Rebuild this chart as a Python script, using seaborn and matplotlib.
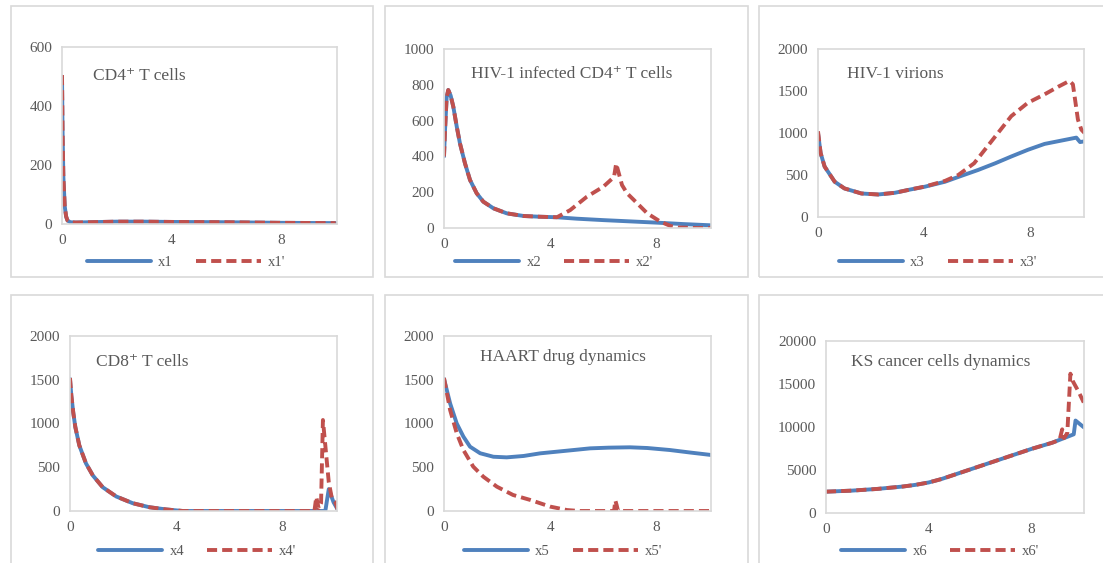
import numpy as np
import pandas as pd
import matplotlib
matplotlib.use("Agg")
import matplotlib.pyplot as plt
from matplotlib.patches import Rectangle
import seaborn as sns

# values
t1 = [0, 0.02, 0.05, 0.1, 0.15, 0.2, 0.3, 0.5, 1, 2, 3, 4, 6, 8, 10]
x1 = [500, 320, 160, 60, 25, 12, 6, 5, 6, 8, 8, 7, 6, 4, 3]
x1p = [505, 320, 160, 62, 26, 12, 6, 5, 6, 8, 8, 7, 6, 4, 3]

t2 = [0, 0.04, 0.1, 0.16, 0.25, 0.35, 0.48, 0.6, 0.79, 0.98, 1.23, 1.48, 1.86, 2.36, 3.0, 3.6,
      4.25, 5, 6, 7, 8, 9, 10.05]
x2 = [400, 550, 730, 771, 740, 678, 566, 473, 361, 268, 194, 147, 110, 82, 67, 63,
      60, 52, 44, 37, 30, 22, 15]
t2p = [0, 0.04, 0.1, 0.16, 0.25, 0.35, 0.48, 0.6, 0.79, 0.98, 1.23, 1.48, 1.86, 2.36, 3.0, 3.6,
       4.25, 4.75, 5.38, 6.0, 6.4, 6.48, 6.7, 6.89, 7.15, 7.65, 8.15, 8.53, 8.8, 9.5, 10.05]
x2p = [400, 550, 730, 771, 740, 678, 566, 473, 361, 268, 194, 147, 110, 82, 67, 63,
       60, 100, 175, 231, 285, 360, 240, 194, 156, 82, 35, 11, 3, 0, 0]

t3 = [0, 0.1, 0.25, 0.63, 1.0, 1.64, 2.27, 2.9, 3.5, 4.03, 4.8, 5.4, 6.05, 6.7, 7.3, 7.93, 8.56, 9.2, 9.76, 9.9, 10.05]
x3 = [1000, 760, 600, 420, 340, 280, 268, 288, 328, 360, 420, 488, 560, 640, 720, 800, 870, 910, 945, 892, 900]
t3p = [0, 0.1, 0.25, 0.63, 1.0, 1.64, 2.27, 2.9, 3.5, 4.03, 4.8, 5.3, 5.9, 6.3, 6.8, 7.3, 7.93, 8.56, 9.07, 9.5, 9.63, 9.82, 9.95, 10.07]
x3p = [1020, 760, 600, 420, 340, 280, 268, 288, 328, 362, 430, 500, 640, 800, 1000, 1200, 1360, 1460, 1550, 1620, 1580, 1160, 1040, 1000]

t4 = [0, 0.05, 0.125, 0.2, 0.35, 0.6, 0.86, 1.23, 1.74, 2.36, 2.99, 3.62, 4.25, 6, 8, 9.61, 9.74, 9.92, 10.07]
x4 = [1510, 1320, 1120, 960, 750, 545, 406, 272, 166, 89, 43, 18, 0, 0, 0, 0, 250, 100, 20]
t4p = [0, 0.05, 0.125, 0.2, 0.35, 0.6, 0.86, 1.23, 1.74, 2.36, 2.99, 3.62, 4.25, 6, 8,
       9.2, 9.27, 9.36, 9.45, 9.52, 9.61, 9.74, 9.86, 9.99, 10.07]
x4p = [1520, 1320, 1120, 960, 750, 545, 406, 272, 166, 89, 43, 18, 0, 0, 0,
       0, 160, 30, 90, 1040, 750, 330, 140, 100, 20]

t5 = [0, 0.23, 0.48, 0.73, 0.98, 1.36, 1.86, 2.36, 3.0, 3.62, 4.88, 5.5, 6.2, 7.0, 7.65, 8.5, 9.3, 10.06]
x5 = [1510, 1230, 1000, 850, 735, 660, 620, 613, 629, 659, 697, 716, 724, 728, 720, 697, 667, 640]
t5p = [0, 0.23, 0.48, 0.73, 1.1, 1.48, 1.99, 2.6, 3.25, 4.0, 4.63, 5.1, 6.4, 6.45, 6.5, 6.55, 8, 10.06]
x5p = [1520, 1154, 888, 697, 507, 392, 278, 183, 126, 50, 11, 0, 0, 120, 65, 0, 0, 0]

t6 = [0, 1, 2, 3, 3.5, 4, 4.5, 5, 6, 7, 8, 8.81, 9.65, 9.72, 10.05]
x6 = [2480, 2600, 2800, 3080, 3280, 3550, 3950, 4450, 5450, 6450, 7450, 8170, 9150, 10750, 9950]
t6p = [0, 1, 2, 3, 3.5, 4, 4.5, 5, 6, 7, 8, 8.81, 9.1, 9.2, 9.27, 9.4, 9.52, 9.62, 9.84, 10.04]
x6p = [2480, 2600, 2800, 3080, 3280, 3550, 3950, 4450, 5450, 6450, 7450, 8170, 8500, 9730, 8700, 9300, 16200, 15300, 14100, 12850]

titles = ["CD4\u207a T cells", "HIV-1 infected CD4\u207a T cells", "HIV-1 virions",
          "CD8\u207a T cells", "HAART drug dynamics", "KS cancer cells dynamics"]
names = ["x1", "x2", "x3", "x4", "x5", "x6"]
y_max = [600, 1000, 2000, 2000, 2000, 20000]
y_step = [200, 200, 500, 500, 500, 5000]
x_ticks = [0, 4, 8]

series = [(t1, x1, t1, x1p), (t2, x2, t2p, x2p), (t3, x3, t3p, x3p),
          (t4, x4, t4p, x4p), (t5, x5, t5p, x5p), (t6, x6, t6p, x6p)]

sns.set_style("white")
plt.rcParams["font.family"] = ["Liberation Serif", "DejaVu Serif"]

W, H = 1103, 563
fig = plt.figure(figsize=(W / 100, H / 100), dpi=100)

# pixel boxes: (left, right, top, bottom)
ax_px = [(62, 337, 47, 224), (444, 711, 49, 228), (818, 1084, 49, 217),
         (70, 337, 336, 511), (444, 711, 336, 511), (826, 1084, 341, 513)]
panel_px = [(11, 373, 6, 277), (385, 748, 6, 277), (759, 1110, 6, 277),
            (11, 373, 295, 570), (385, 748, 295, 570), (759, 1110, 295, 570)]
title_px = [(93, 76), (471, 74), (847, 74), (96, 362), (480, 357), (851, 362)]
legend_px = [(186, 262), (554, 262), (938, 262), (197, 551), (563, 551), (940, 551)]

blue = "#4F81BD"
red = "#C0504D"
gray = "#595959"

for (l, r, t, b) in panel_px:
    fig.add_artist(Rectangle((l / W, 1 - b / H), (r - l) / W, (b - t) / H,
                             transform=fig.transFigure, fill=False,
                             ec="#D9D9D9", lw=1.2))

for i in range(6):
    l, r, t, b = ax_px[i]
    ax = fig.add_axes([l / W, 1 - b / H, (r - l) / W, (b - t) / H])
    ta, va, tb, vb = series[i]
    sns.lineplot(x=ta, y=va, ax=ax, color=blue, lw=2.8, label=names[i])
    sns.lineplot(x=tb, y=vb, ax=ax, color=red, lw=2.8,
                 linestyle=(0, (2.6, 1.3)), label=names[i] + "'")
    ax.set_xlim(0, 10.05)
    ax.set_ylim(0, y_max[i])
    ax.set_xticks(x_ticks)
    ax.set_yticks(np.arange(0, y_max[i] + 1, y_step[i]))
    ax.tick_params(length=0, labelsize=11, labelcolor=gray, pad=7)
    for s in ax.spines.values():
        s.set_color("#D9D9D9")
        s.set_linewidth(1.2)
    ax.set_xlabel("")
    ax.set_ylabel("")
    ax.get_legend().remove()
    tx, ty = title_px[i]
    fig.text(tx / W, 1 - ty / H, titles[i], fontsize=12.5, color=gray,
             ha="left", va="center")
    lx, ly = legend_px[i]
    h, lab = ax.get_legend_handles_labels()
    leg = ax.legend(h, lab, loc="center", bbox_to_anchor=(lx / W, 1 - ly / H),
                    bbox_transform=fig.transFigure, ncol=2, frameon=False,
                    fontsize=10.5, handlelength=4.4, handletextpad=0.5,
                    columnspacing=1.6, borderpad=0)
    for txt in leg.get_texts():
        txt.set_color(gray)

fig.savefig("out.png", dpi=100)
